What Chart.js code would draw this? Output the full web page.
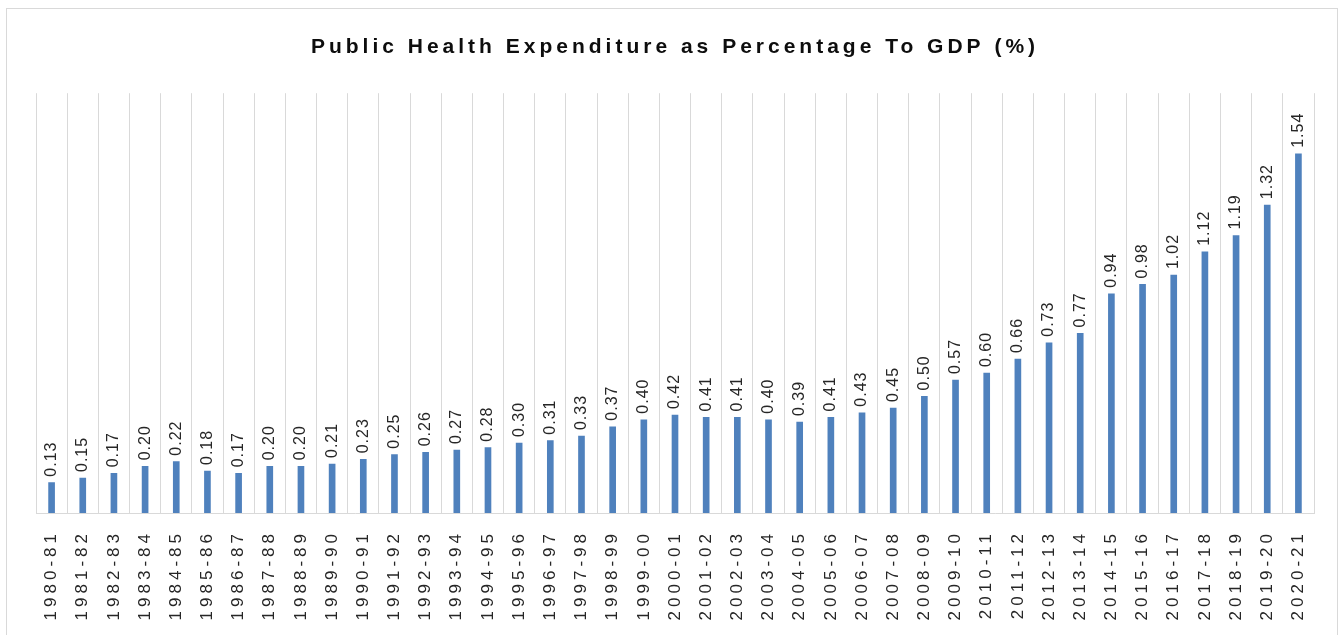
<!DOCTYPE html>
<html>
<head>
<meta charset="utf-8">
<script src="https://cdn.jsdelivr.net/npm/chart.js@4.4.1/dist/chart.umd.min.js"></script>
<style>
  html, body { margin: 0; padding: 0; background: #fff; }
  #wrap { width: 1343px; height: 635px; position: relative; }
</style>
</head>
<body>
<div id="wrap"><canvas id="gdpChart"></canvas></div>
<script>
// years (x axis)
const years = [
    "1980-81", "1981-82", "1982-83", "1983-84", "1984-85", "1985-86", "1986-87",
    "1987-88", "1988-89", "1989-90", "1990-91", "1991-92", "1992-93", "1993-94",
    "1994-95", "1995-96", "1996-97", "1997-98", "1998-99", "1999-00", "2000-01",
    "2001-02", "2002-03", "2003-04", "2004-05", "2005-06", "2006-07", "2007-08",
    "2008-09", "2009-10", "2010-11", "2011-12", "2012-13", "2013-14", "2014-15",
    "2015-16", "2016-17", "2017-18", "2018-19", "2019-20", "2020-21"
];

// public health expenditure, % of GDP
const healthPct = [
    0.13, 0.15, 0.17, 0.20, 0.22, 0.18, 0.17,
    0.20, 0.20, 0.21, 0.23, 0.25, 0.26, 0.27,
    0.28, 0.30, 0.31, 0.33, 0.37, 0.40, 0.42,
    0.41, 0.41, 0.40, 0.39, 0.41, 0.43, 0.45,
    0.50, 0.57, 0.60, 0.66, 0.73, 0.77, 0.94,
    0.98, 1.02, 1.12, 1.19, 1.32, 1.54
];

const chartTitle = "Public Health Expenditure as Percentage To GDP (%)";

// spaced-out text like the original, plus outer frame
const framePlugin = {
    id: "frame",
    beforeLayout(chart) {
        chart.ctx.letterSpacing = "4px";
    },
    beforeDraw(chart) {
        const ctx = chart.ctx;
        ctx.save();
        ctx.strokeStyle = "#d9d9d9";
        ctx.lineWidth = 1;
        ctx.strokeRect(6.5, 8.5, 1331, 700);
        ctx.restore();
        ctx.letterSpacing = "4px";
    }
};

// value labels above each bar, rotated
const valueLabels = {
    id: "valueLabels",
    afterDatasetsDraw(chart) {
        const ctx = chart.ctx;
        const meta = chart.getDatasetMeta(0);
        ctx.save();
        ctx.letterSpacing = "1px";
        ctx.font = "16px 'Liberation Sans', sans-serif";
        ctx.fillStyle = "#262626";
        ctx.textAlign = "left";
        ctx.textBaseline = "middle";
        meta.data.forEach((bar, i) => {
            ctx.save();
            ctx.translate(bar.x, bar.y - 6);
            ctx.rotate(-Math.PI / 2);
            ctx.fillText(healthPct[i].toFixed(2), 0, 0);
            ctx.restore();
        });
        ctx.restore();
        ctx.letterSpacing = "4px";
    }
};

new Chart(document.getElementById("gdpChart"), {
    type: "bar",
    data: {
        labels: years,
        datasets: [{
            label: "Public Health Expenditure (% of GDP)",
            data: healthPct,
            backgroundColor: "#4f81bd",
            barThickness: 6
        }]
    },
    options: {
        responsive: true,
        maintainAspectRatio: false,
        animation: false,
        layout: {
            padding: { left: 36, right: 29, top: 0, bottom: 0 }
        },
        plugins: {
            legend: { display: false },
            tooltip: { enabled: false },
            title: {
                display: true,
                text: chartTitle,
                color: "#0d0d0d",
                font: { family: "'Liberation Sans', sans-serif", size: 21, weight: "bold", lineHeight: 1.2 },
                padding: { top: 35, bottom: 33 }
            }
        },
        scales: {
            x: {
                grid: { offset: true, color: "#d9d9d9", drawTicks: false },
                border: { color: "#d9d9d9" },
                ticks: {
                    maxRotation: 90,
                    minRotation: 90,
                    autoSkip: false,
                    padding: 17,
                    color: "#262626",
                    font: { family: "'Liberation Sans', sans-serif", size: 17 }
                },
                afterFit(scale) {
                    scale.height = 122;
                }
            },
            y: {
                display: false,
                min: 0,
                max: 1.8
            }
        }
    },
    plugins: [framePlugin, valueLabels]
});
</script>
</body>
</html>
